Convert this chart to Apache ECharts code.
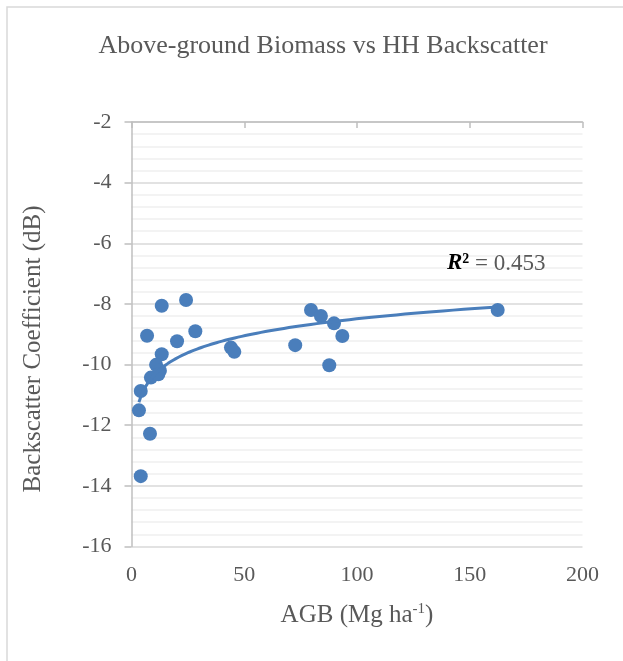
<!DOCTYPE html>
<html>
<head>
<meta charset="utf-8">
<script src="https://cdn.jsdelivr.net/npm/echarts@6/dist/echarts.min.js"></script>
<style>html,body{margin:0;padding:0;background:#fff;}#c{width:623px;height:661px;}</style>
</head>
<body>
<div id="c"></div>
<script>
// AGB (Mg ha-1)
const agb = [4.1, 3.3, 4.1, 8.2, 6.9, 13.4, 24.2, 28.3, 20.2, 13.4, 8.6, 10.9, 12.6, 11.9, 44.1, 45.6, 72.6, 79.6, 84.0, 89.8, 87.7, 93.5, 162.4];
// HH backscatter (dB)
const backscatter = [-13.68, -11.51, -10.87, -12.28, -9.05, -8.06, -7.87, -8.90, -9.23, -9.66, -10.43, -10.01, -10.20, -10.32, -9.44, -9.58, -9.36, -8.20, -8.40, -8.64, -10.02, -9.06, -8.20];
const xTicks = [0, 50, 100, 150, 200];
const yTicks = [-16, -14, -12, -10, -8, -6, -4, -2];
const titleText = 'Above-ground Biomass vs HH Backscatter';
const yName = 'Backscatter Coefficient (dB)';
const r2Text = '0.453';

const points = agb.map((x, i) => [x, backscatter[i]]);

// logarithmic trendline y = a ln(x) + b, least squares fit
const lx = agb.map(Math.log);
const n = lx.length;
const mx = lx.reduce((s, v) => s + v, 0) / n;
const my = backscatter.reduce((s, v) => s + v, 0) / n;
let sxy = 0, sxx = 0;
for (let i = 0; i < n; i++) { sxy += (lx[i] - mx) * (backscatter[i] - my); sxx += (lx[i] - mx) * (lx[i] - mx); }
const a = sxy / sxx, b = my - a * mx;
const xmin = Math.min(...agb), xmax = Math.max(...agb);
const trend = [];
for (let k = 0; k <= 120; k++) {
  const x = xmin * Math.pow(xmax / xmin, k / 120);
  trend.push([x, a * Math.log(x) + b]);
}

const font = '"Liberation Serif", "Times New Roman", serif';
const gray = '#595959';
const chart = echarts.init(document.getElementById('c'));
chart.setOption({
  animation: false,
  title: {
    text: titleText, left: 318, top: 28, textAlign: 'center',
    textStyle: { fontFamily: font, fontSize: 26, fontWeight: 'normal', color: gray }
  },
  grid: { left: 131.5, right: 40.5, top: 122, bottom: 114.5 },
  xAxis: [{
    type: 'value', min: xTicks[0], max: xTicks[xTicks.length - 1], interval: 50, position: 'bottom',
    axisLine: { show: false }, axisTick: { show: false }, splitLine: { show: false },
    axisLabel: { fontFamily: font, fontSize: 22, color: gray, margin: 18 },
    name: '{n|AGB (Mg ha}{s|-1}{n|)}', nameLocation: 'middle', nameGap: 55,
    nameTextStyle: {
      fontFamily: font, color: gray,
      rich: {
        n: { fontFamily: font, fontSize: 25, color: gray },
        s: { fontFamily: font, fontSize: 15, color: gray, verticalAlign: 'top', padding: [0, 0, 12, 0] }
      }
    }
  }, {
    type: 'value', min: xTicks[0], max: xTicks[xTicks.length - 1], interval: 50, position: 'top',
    axisLine: { show: true, lineStyle: { color: '#bfbfbf', width: 1.5 } },
    axisTick: { show: true, inside: true, length: 6, lineStyle: { color: '#bfbfbf', width: 1.5 } },
    axisLabel: { show: false }, splitLine: { show: false }
  }],
  yAxis: {
    type: 'value', min: yTicks[0], max: yTicks[yTicks.length - 1], interval: 2,
    axisLine: { show: true, onZero: false, lineStyle: { color: '#bfbfbf', width: 1.5 } },
    axisTick: { show: true, length: 7, lineStyle: { color: '#bfbfbf', width: 1.5 } },
    axisLabel: { fontFamily: font, fontSize: 22, color: gray, margin: 20 },
    splitLine: { show: true, lineStyle: { color: '#d9d9d9', width: 1.5 } },
    minorTick: { show: false, splitNumber: 5 },
    minorSplitLine: { show: true, lineStyle: { color: '#efefef', width: 1.5 } }
  },
  series: [{
    type: 'scatter', data: points, symbolSize: 14, xAxisIndex: 0,
    itemStyle: { color: '#4a7ebb', opacity: 1 }, z: 3
  }, {
    type: 'line', data: trend, showSymbol: false, smooth: false, xAxisIndex: 0,
    lineStyle: { color: '#4a7ebb', width: 3 }, z: 4, silent: true
  }],
  graphic: [{
    type: 'rect', shape: { x: 7, y: 7, width: 700, height: 700 }, silent: true, z: -1,
    style: { fill: 'none', stroke: '#d9d9d9', lineWidth: 1.5 }
  }, {
    type: 'text', x: 33, y: 349, rotation: Math.PI / 2, silent: true,
    style: { text: yName, fontFamily: font, fontSize: 25, fill: gray, align: 'center', verticalAlign: 'middle' }
  }, {
    type: 'text', left: 447, top: 252, z: 10,
    style: {
      text: '{r|R}{s|²}{t| = ' + r2Text + '}',
      rich: {
        r: { fontFamily: font, fontSize: 23, fontStyle: 'italic', fontWeight: 'bold', fill: '#000' },
        s: { fontFamily: font, fontSize: 23, fontWeight: 'bold', fill: '#000' },
        t: { fontFamily: font, fontSize: 23, fill: gray }
      }
    }
  }]
});
</script>
</body>
</html>
